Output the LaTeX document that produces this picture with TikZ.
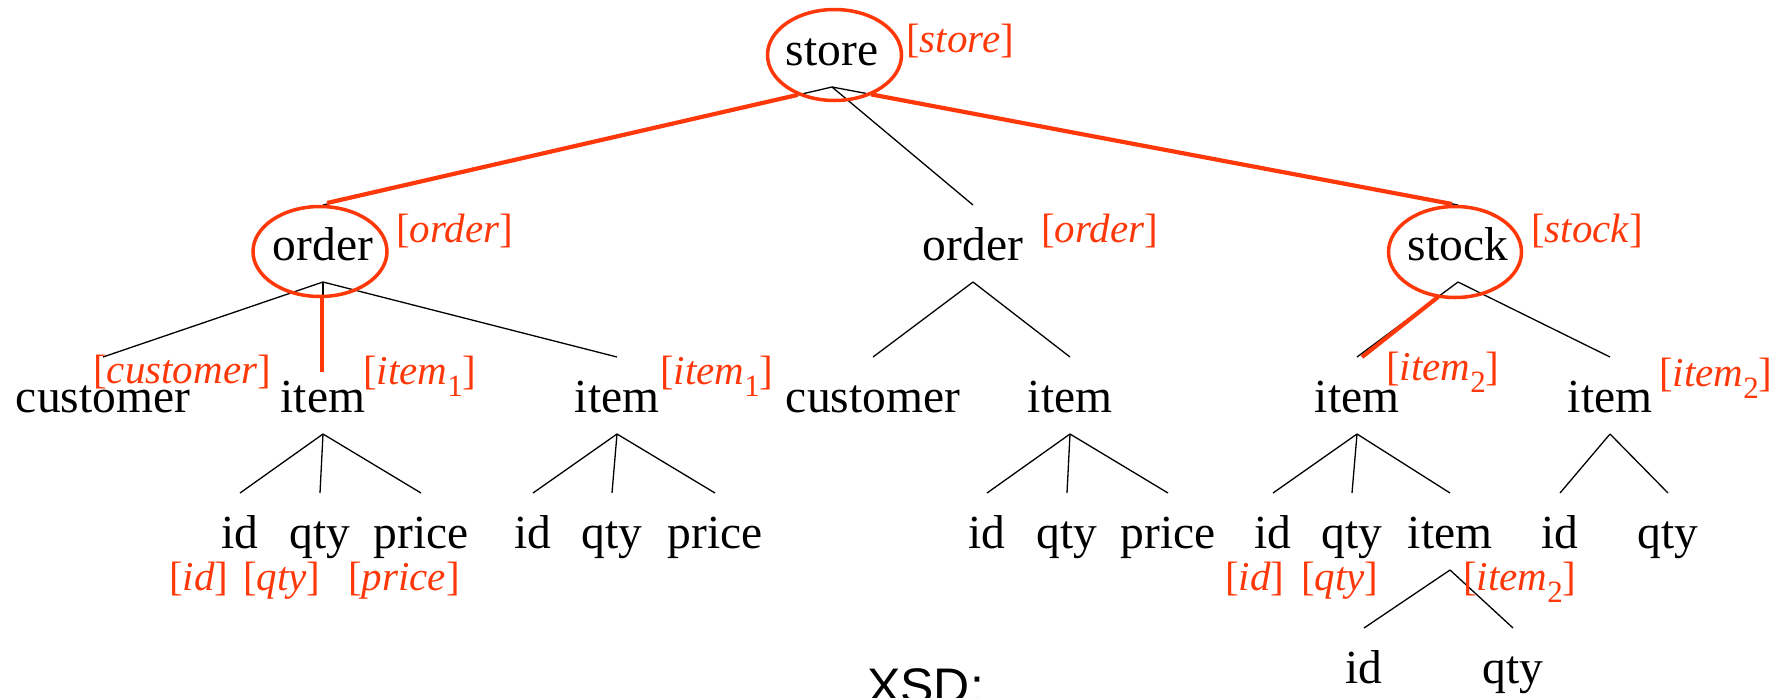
\documentclass[tikz,border=0pt]{standalone}
\usepackage{fontspec}
\setmainfont{Liberation Serif}
\newfontfamily\xsdfont{Liberation Sans}
\usetikzlibrary{shapes.geometric}
\definecolor{hl}{RGB}{255,56,10}

% type labels: [name] and [name_k]
\newcommand\tg[1]{[\textit{#1}\/]}
\newcommand\tgs[2]{[\textit{#1}\raisebox{-12pt}{\fontsize{31}{31}\selectfont #2}]}

\tikzset{
  lbl/.style={font=\fontsize{47.5}{50}\selectfont, inner sep=0pt, anchor=base},
  tag/.style={text=hl, font=\fontsize{41}{44}\selectfont, inner sep=0pt, anchor=base west},
  edge/.style={line width=1.3pt, black},
  hlring/.style={draw=hl, line width=3.5pt, ellipse, inner sep=0pt},
  hledge/.style={draw=hl, line width=4.2pt},
}

\begin{document}
\begin{tikzpicture}[x=1pt, y=-1pt]
\useasboundingbox (0,0) rectangle (1785,697);

% ---- element nodes (x = centre, y = baseline)
\node[lbl] (store) at (832,65) {store};

\node[lbl] (o1)  at (323,260)  {order};
\node[lbl] (o2)  at (973,260)  {order};
\node[lbl] (stk) at (1458,260) {stock};

\node[lbl] (c1) at (103,412)  {customer};
\node[lbl] (i1) at (323,412)  {item};
\node[lbl] (i2) at (617,412)  {item};
\node[lbl] (c2) at (873,412)  {customer};
\node[lbl] (i3) at (1070,412) {item};
\node[lbl] (i4) at (1357,412) {item};
\node[lbl] (i5) at (1610,412) {item};

\node[lbl] (d1) at (240,548)  {id};
\node[lbl] (q1) at (320,548)  {qty};
\node[lbl] (p1) at (421,548)  {price};
\node[lbl] (d2) at (533,548)  {id};
\node[lbl] (q2) at (612,548)  {qty};
\node[lbl] (p2) at (715,548)  {price};
\node[lbl] (d3) at (987,548)  {id};
\node[lbl] (q3) at (1067,548) {qty};
\node[lbl] (p3) at (1168,548) {price};
\node[lbl] (d4) at (1273,548) {id};
\node[lbl] (q4) at (1352,548) {qty};
\node[lbl] (i6) at (1450,548) {item};
\node[lbl] (d5) at (1560,548) {id};
\node[lbl] (q5) at (1668,548) {qty};

\node[lbl] (d6) at (1364,683) {id};
\node[lbl] (q6) at (1513,683) {qty};

% ---- tree edges: from below the parent to above the child
\foreach \p/\c in {store/o1, store/o2, store/stk,
                   o1/c1, o1/i1, o1/i2, o2/c2, o2/i3, stk/i4, stk/i5,
                   i1/d1, i1/q1, i1/p1, i2/d2, i2/q2, i2/p2,
                   i3/d3, i3/q3, i3/p3, i4/d4, i4/q4, i4/i6,
                   i5/d5, i5/q5, i6/d6, i6/q6}
  \draw[edge] ([yshift=-22pt]\p.base) -- ([yshift=55pt]\c.base);

% ---- highlighted path
\node[hlring, minimum width=134pt, minimum height=91pt] (storeRing) at (834.5,55) {};
\node[hlring, minimum width=134pt, minimum height=90pt] (o1Ring) at (320,251.5) {};
\node[hlring, minimum width=133pt, minimum height=91pt] (stkRing) at (1455,252) {};

\draw[hledge, shorten <=35pt] ([yshift=-22pt]store.base) -- ([xshift=4pt,yshift=57pt]o1.base);
\draw[hledge, shorten <=40pt] ([yshift=-22pt]store.base) -- ([xshift=-6pt,yshift=56pt]stk.base);
\draw[hledge] ([xshift=-1pt,yshift=-38pt]o1.base) -- ([xshift=-1pt,yshift=40pt]i1.base);
\draw[hledge] ([xshift=-20pt,yshift=-37pt]stk.base) -- ([xshift=5pt,yshift=55pt]i4.base);

% ---- type annotations
\node[tag] (tStore) at (906,52)   {\tg{store}};
\node[tag] (tO1)    at (396,242)  {\tg{order}};
\node[tag] (tO2)    at (1041,242) {\tg{order}};
\node[tag] (tStk)   at (1531,242) {\tg{stock}};

\node[tag] (tC1) at (93,383)    {\tg{customer}};
\node[tag] (tI1) at (363,384)   {\tgs{item}{1}};
\node[tag] (tI2) at (660,384)   {\tgs{item}{1}};
\node[tag] (tI4) at (1386,380)  {\tgs{item}{2}};
\node[tag] (tI5) at (1659,386)  {\tgs{item}{2}};

\node[tag] (tD1) at (169,590)  {\tg{id}};
\node[tag] (tQ1) at (243,590)  {\tg{qty}};
\node[tag] (tP1) at (348,590)  {\tg{price}};
\node[tag] (tD4) at (1225,590) {\tg{id}};
\node[tag] (tQ4) at (1301,590) {\tg{qty}};
\node[tag] (tI6) at (1463,590) {\tgs{item}{2}};

% ---- caption
\node[inner sep=0pt, anchor=base west, font=\xsdfont\fontsize{50}{52}\selectfont] (xsd) at (867,703) {XSD:};
\end{tikzpicture}
\end{document}
